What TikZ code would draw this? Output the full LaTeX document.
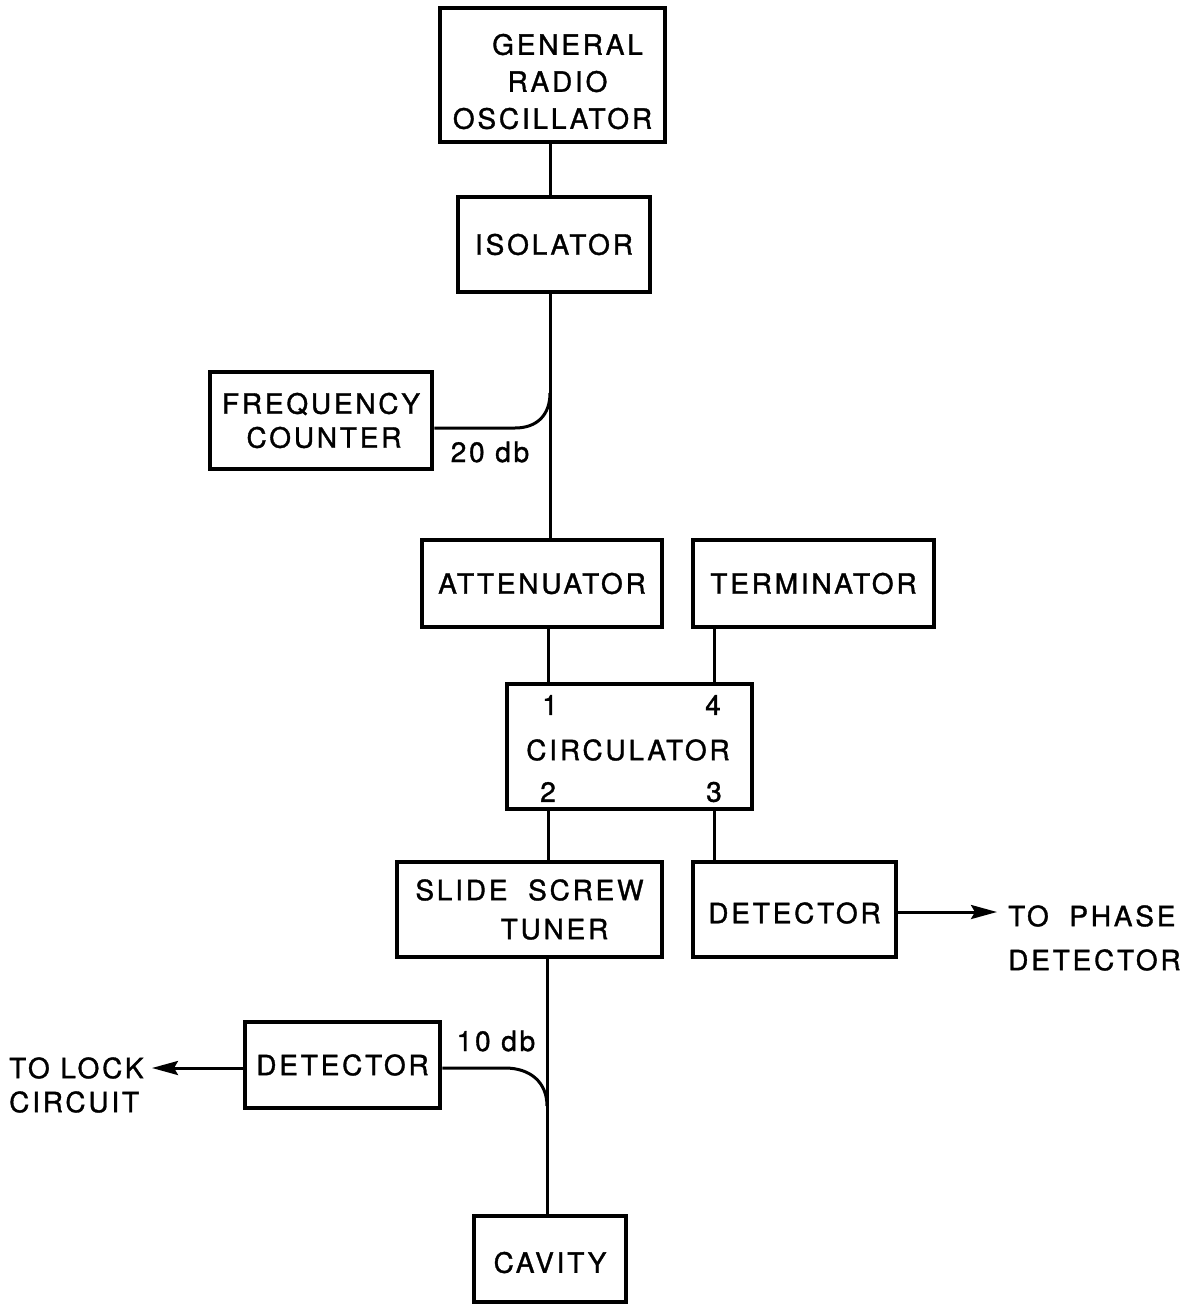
\documentclass[tikz,border=0pt]{standalone}
\usepackage{fontspec}
\usetikzlibrary{arrows.meta}
\newfontfamily\lblfont[LetterSpace=10,FakeBold=1.2]{TeX Gyre Heros}
\newcommand\lblA{\lblfont\fontsize{28}{34}\selectfont}
\tikzset{
  blk/.style={draw, line width=4.5pt, inner sep=0pt, font=\lblA, align=center},
  txt/.style={inner sep=0pt, font=\lblA},
  wire/.style={line width=3pt},
  arrowtip/.style={-{Stealth[length=26pt,width=14pt,inset=4pt]}}
}
\begin{document}
\begin{tikzpicture}[x=1pt,y=-1pt]
\useasboundingbox (0,0) rectangle (1194,1304);
% boxes
\node[blk, minimum width=225pt, minimum height=134pt, font=\lblfont\fontsize{28}{37}\selectfont] (osc) at (552.5,75) {\rule{0pt}{34pt}\hspace*{30pt}GENERAL\\\hspace*{10pt}RADIO\\OSCILLATOR};
\node[blk, minimum width=192pt, minimum height=95pt] (iso) at (554,244.5) {ISOLATOR};
\node[blk, minimum width=222pt, minimum height=97pt] (freq) at (321,420.5) {FREQUENCY\\\hspace*{6pt}COUNTER};
\node[blk, minimum width=240pt, minimum height=87pt] (att) at (542,583.5) {ATTENUATOR};
\node[blk, minimum width=241pt, minimum height=87pt] (term) at (813.5,583.5) {TERMINATOR};
\node[blk, minimum width=245pt, minimum height=125pt] (circ) at (629.5,746.5) {};
\node[blk, minimum width=265pt, minimum height=95pt, font=\lblfont\fontsize{28}{39}\selectfont] (sst) at (529.5,909.5) {SLIDE\hspace{10pt} SCREW\\\hspace*{50pt}TUNER};
\node[blk, minimum width=203pt, minimum height=95pt] (detR) at (794.5,909.5) {\rule{0pt}{28pt}DETECTOR};
\node[blk, minimum width=195pt, minimum height=86pt] (detL) at (342.5,1065) {DETECTOR};
\node[blk, minimum width=152pt, minimum height=86pt] (cav) at (550,1259) {\rule{0pt}{28pt}CAVITY};
% circulator labels
\node[txt] (p1) at (550,705) {1};
\node[txt] (p4) at (713,705) {4};
\node[txt] (ctext) at (628,750) {CIRCULATOR};
\node[txt] (p2) at (548,792) {2};
\node[txt] (p3) at (714,792) {3};
% other labels
\node[txt] (l20) at (490,452) {20 db};
\node[txt] (l10) at (496,1041) {10 db};
\node[txt, align=left, anchor=west, font=\lblfont\fontsize{28}{44}\selectfont] (phase) at (1008,938) {TO\hspace{10pt} PHASE\\DETECTOR};
\node[txt, align=left, anchor=west, font=\lblfont\fontsize{28}{34}\selectfont] (lock) at (9,1085) {TO LOCK\\CIRCUIT};
% coordinates
\coordinate (x550) at (550,0);
\coordinate (x548) at (548,0);
\coordinate (x547) at (547,0);
\coordinate (x714) at (714,0);
\coordinate (c20a) at (515,428);
\coordinate (c20b) at (550,393);
\coordinate (c10a) at (505,1068);
\coordinate (c10b) at (547,1106);
\coordinate (phaseEnd) at (997,912);
\coordinate (lockEnd) at (152,1068);
% wires
\draw[wire] (osc.south -| x550) -- (iso.north -| x550);
\draw[wire] (iso.south -| x550) -- (att.north -| x550);
\draw[wire] (att.south -| x548) -- (circ.north -| x548);
\draw[wire] (term.south -| x714) -- (circ.north -| x714);
\draw[wire] (circ.south -| x548) -- (sst.north -| x548);
\draw[wire] (circ.south -| x714) -- (detR.north -| x714);
\draw[wire] (sst.south -| x547) -- (cav.north -| x547);
% couplers
\draw[wire] (freq.east |- c20a) -- (c20a) .. controls (537,428) and (550,415) .. (c20b);
\draw[wire] (detL.east |- c10a) -- (c10a) .. controls (530,1068) and (547,1082) .. (c10b);
% outputs
\draw[wire, arrowtip] (detR.east |- phaseEnd) -- (phaseEnd);
\draw[wire, arrowtip] (detL.west |- lockEnd) -- (lockEnd);
\end{tikzpicture}
\end{document}
